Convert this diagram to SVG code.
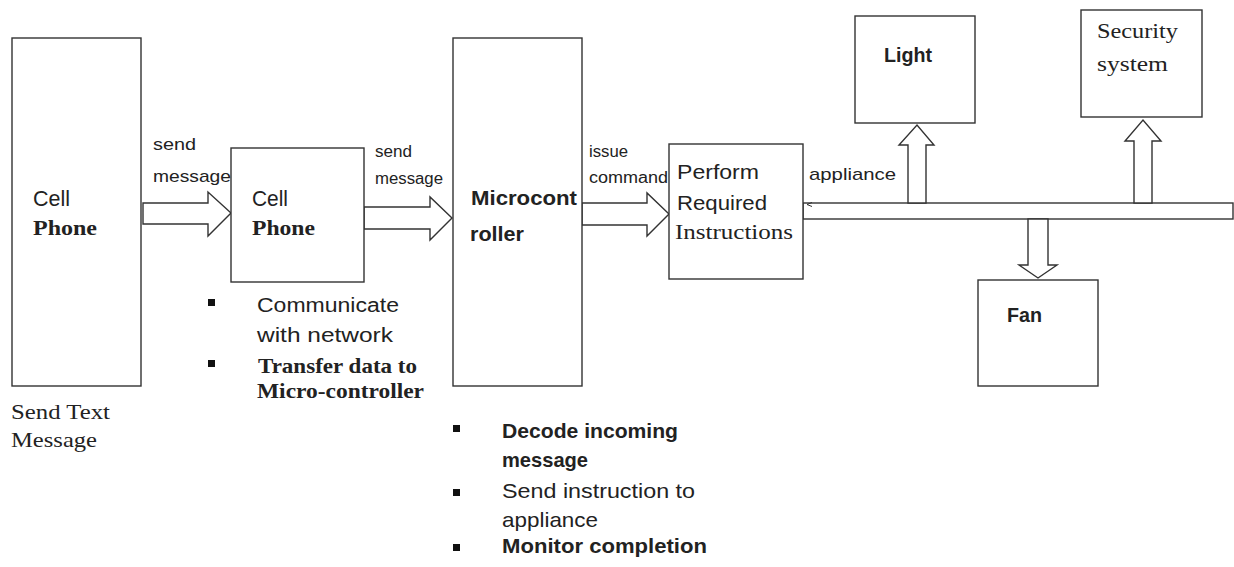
<svg xmlns="http://www.w3.org/2000/svg" width="1234" height="567" viewBox="0 0 1234 567">
<style>
.box{fill:#fff;stroke:#333;stroke-width:1.4}
.arr{fill:#fff;stroke:#333;stroke-width:1.4;stroke-linejoin:miter}
.s{font-family:"Liberation Sans",Arial,sans-serif;fill:#222}
.b{font-weight:bold}
.r{font-family:"Liberation Serif","Times New Roman",serif;fill:#222}
.bul{fill:#111}
</style>
<rect width="1234" height="567" fill="#fff"/>
<g id="connectors">
<polygon class="arr" points="143,203 208,203 208,192 231,213 208,236 208,224 143,224"/>
<polygon class="arr" points="364,207 430,207 430,197 452,218 430,240 430,229 364,229"/>
<polygon class="arr" points="582,203 647,203 647,193 669,214 647,236 647,225 582,225"/>
<rect id="bus" class="box" x="803" y="203" width="430" height="16"/>
<polygon class="arr" points="908,203 908,145 899,145 917,125 934,145 926,145 926,203"/>
<polygon class="arr" points="1134,203 1134,141 1125,141 1143,120 1161,141 1152,141 1152,203"/>
<polygon class="arr" points="1028,219 1028,265 1019,265 1038,278 1057,265 1048,265 1048,219"/>
<path d="M812,202.5 L807,204.5 L812,206.5" fill="none" stroke="#333" stroke-width="1"/>
<text class="s" x="153" y="150" font-size="17" textLength="43" lengthAdjust="spacingAndGlyphs">send</text>
<text class="s" x="153" y="182" font-size="17" textLength="78" lengthAdjust="spacingAndGlyphs">message</text>
<text class="s" x="375" y="157" font-size="16" textLength="37" lengthAdjust="spacingAndGlyphs">send</text>
<text class="s" x="375" y="184" font-size="16" textLength="68" lengthAdjust="spacingAndGlyphs">message</text>
<text class="s" x="589" y="157" font-size="16" textLength="39" lengthAdjust="spacingAndGlyphs">issue</text>
<text class="s" x="589" y="183" font-size="16" textLength="79" lengthAdjust="spacingAndGlyphs">command</text>
<text class="s" x="809" y="180" font-size="17" textLength="87" lengthAdjust="spacingAndGlyphs">appliance</text>
</g>
<g id="sender">
<rect class="box" x="12" y="38" width="129" height="348"/>
<text class="s" x="33" y="206" font-size="22" textLength="37" lengthAdjust="spacingAndGlyphs">Cell</text>
<text class="r b" x="33" y="235" font-size="22" textLength="64" lengthAdjust="spacingAndGlyphs">Phone</text>
<text class="r" x="11" y="419" font-size="21" textLength="99" lengthAdjust="spacingAndGlyphs">Send Text</text>
<text class="r" x="11" y="447" font-size="21" textLength="86" lengthAdjust="spacingAndGlyphs">Message</text>
</g>
<g id="receiver">
<rect class="box" x="231" y="148" width="133" height="134"/>
<text class="s" x="252" y="206" font-size="22" textLength="36" lengthAdjust="spacingAndGlyphs">Cell</text>
<text class="r b" x="252" y="235" font-size="22" textLength="63" lengthAdjust="spacingAndGlyphs">Phone</text>
<rect class="bul" x="208" y="299" width="7" height="7"/>
<rect class="bul" x="208" y="360" width="7" height="7"/>
<text class="s" x="257" y="312" font-size="20" textLength="142" lengthAdjust="spacingAndGlyphs">Communicate</text>
<text class="s" x="257" y="342" font-size="20" textLength="136" lengthAdjust="spacingAndGlyphs">with network</text>
<text class="r b" x="258" y="373" font-size="22" textLength="159" lengthAdjust="spacingAndGlyphs">Transfer data to</text>
<text class="r b" x="257" y="398" font-size="22" textLength="167" lengthAdjust="spacingAndGlyphs">Micro-controller</text>
</g>
<g id="microcontroller">
<rect class="box" x="453" y="38" width="129" height="348"/>
<text class="s b" x="471" y="205" font-size="20" textLength="106" lengthAdjust="spacingAndGlyphs">Microcont</text>
<text class="s b" x="470" y="241" font-size="20" textLength="54" lengthAdjust="spacingAndGlyphs">roller</text>
<rect class="bul" x="453" y="425" width="7" height="7"/>
<rect class="bul" x="453" y="489" width="7" height="7"/>
<rect class="bul" x="453" y="544" width="7" height="7"/>
<text class="s b" x="502" y="438" font-size="21" textLength="176" lengthAdjust="spacingAndGlyphs">Decode incoming</text>
<text class="s b" x="502" y="467" font-size="21" textLength="86" lengthAdjust="spacingAndGlyphs">message</text>
<text class="s" x="502" y="498" font-size="21" textLength="193" lengthAdjust="spacingAndGlyphs">Send instruction to</text>
<text class="s" x="502" y="527" font-size="21" textLength="96" lengthAdjust="spacingAndGlyphs">appliance</text>
<text class="s b" x="502" y="553" font-size="21" textLength="205" lengthAdjust="spacingAndGlyphs">Monitor completion</text>
</g>
<g id="perform">
<rect class="box" x="669" y="144" width="134" height="135"/>
<text class="s" x="677" y="179" font-size="20" textLength="82" lengthAdjust="spacingAndGlyphs">Perform</text>
<text class="s" x="677" y="210" font-size="20" textLength="90" lengthAdjust="spacingAndGlyphs">Required</text>
<text class="r" x="675" y="239" font-size="21" textLength="118" lengthAdjust="spacingAndGlyphs">Instructions</text>
</g>
<g id="light">
<rect class="box" x="855" y="16" width="120" height="107"/>
<text class="s b" x="884" y="62" font-size="20" textLength="48" lengthAdjust="spacingAndGlyphs">Light</text>
</g>
<g id="security">
<rect class="box" x="1081" y="10" width="121" height="107"/>
<text class="r" x="1097" y="38" font-size="22" textLength="81" lengthAdjust="spacingAndGlyphs">Security</text>
<text class="r" x="1097" y="71" font-size="22" textLength="71" lengthAdjust="spacingAndGlyphs">system</text>
</g>
<g id="fan">
<rect class="box" x="978" y="280" width="120" height="106"/>
<text class="s b" x="1007" y="322" font-size="20" textLength="35" lengthAdjust="spacingAndGlyphs">Fan</text>
</g>
</svg>
